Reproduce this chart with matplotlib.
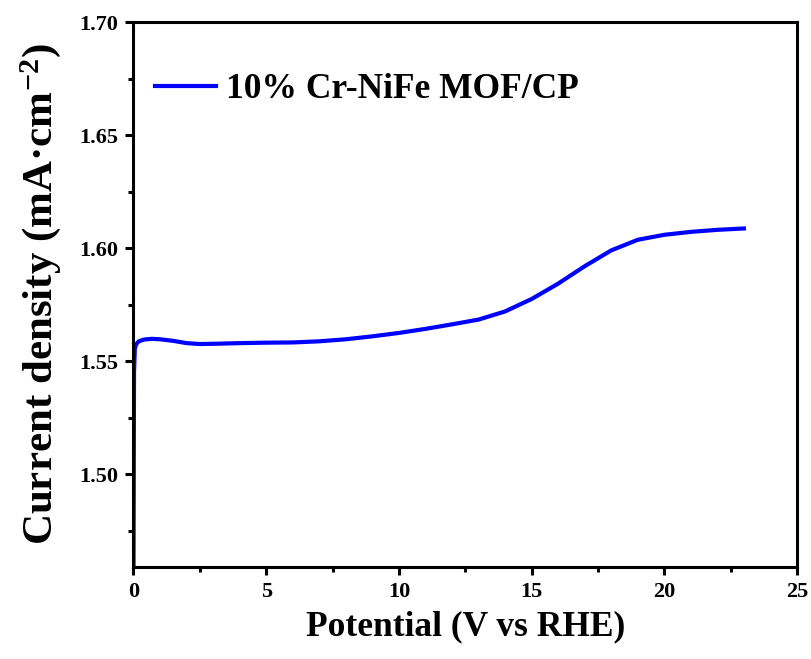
import numpy as np
import matplotlib.pyplot as plt

# data
potential = [0, 0.02, 0.05, 0.1, 0.2, 0.4, 0.7, 1.0, 1.5, 2.0, 2.5, 3.0, 4.0,
             5.0, 6.0, 7.0, 8.0, 9.0, 10.0, 11.0, 12.0, 13.0, 14.0, 15.0,
             16.0, 17.0, 18.0, 19.0, 20.0, 21.0, 22.0, 23.0]
current = [1.459, 1.545, 1.5555, 1.5575, 1.5588, 1.5596, 1.5599, 1.5597,
           1.5590, 1.5580, 1.5576, 1.5577, 1.5580, 1.5582, 1.5583, 1.5588,
           1.5597, 1.5610, 1.5625, 1.5643, 1.5663, 1.5684, 1.5720, 1.5775,
           1.5843, 1.5920, 1.5990, 1.6037, 1.6059, 1.6072, 1.6081, 1.6087]
label = '10% Cr-NiFe MOF/CP'
xticks = [0, 5, 10, 15, 20, 25]
yticks = [1.50, 1.55, 1.60, 1.65, 1.70]

plt.rcParams['font.family'] = ['Liberation Serif', 'DejaVu Serif']
plt.rcParams['font.weight'] = 'bold'
plt.rcParams['mathtext.default'] = 'regular'

fig = plt.figure(figsize=(8.11, 6.59), dpi=100)
ax = fig.add_axes([0.1646, 0.1396, 0.8181, 0.827])

ax.plot(potential, current, color='#0000ff', lw=3, label=label)

ax.set_xlim(0, 25)
ax.set_ylim(1.459, 1.70)
ax.set_xticks(xticks)
ax.set_yticks(yticks)
ax.set_xticks(np.arange(2.5, 25, 5), minor=True)
ax.set_yticks(np.arange(1.475, 1.70, 0.05), minor=True)
ax.set_yticklabels(['%.2f' % v for v in yticks])

for s in ax.spines.values():
    s.set_linewidth(2.2)
ax.tick_params(which='major', direction='out', length=6, width=2.2,
               labelsize=16, pad=5, top=False, right=False)
ax.tick_params(which='minor', direction='out', length=3.5, width=2.2,
               top=False, right=False)
for t in ax.get_xticklabels() + ax.get_yticklabels():
    t.set_fontweight('bold')

ax.set_xlabel('Potential (V vs RHE)', fontsize=25.5, fontweight='bold', labelpad=6)
ax.set_ylabel('Current density (mA·cm$^{-2}$)', fontsize=31, fontweight='bold', labelpad=12)

ax.legend(loc='upper left', bbox_to_anchor=(-0.015, 0.965), frameon=False,
          handlelength=1.7, handletextpad=0.3,
          prop={'size': 25.5, 'weight': 'bold'})

fig.savefig('out.png', dpi=100)
